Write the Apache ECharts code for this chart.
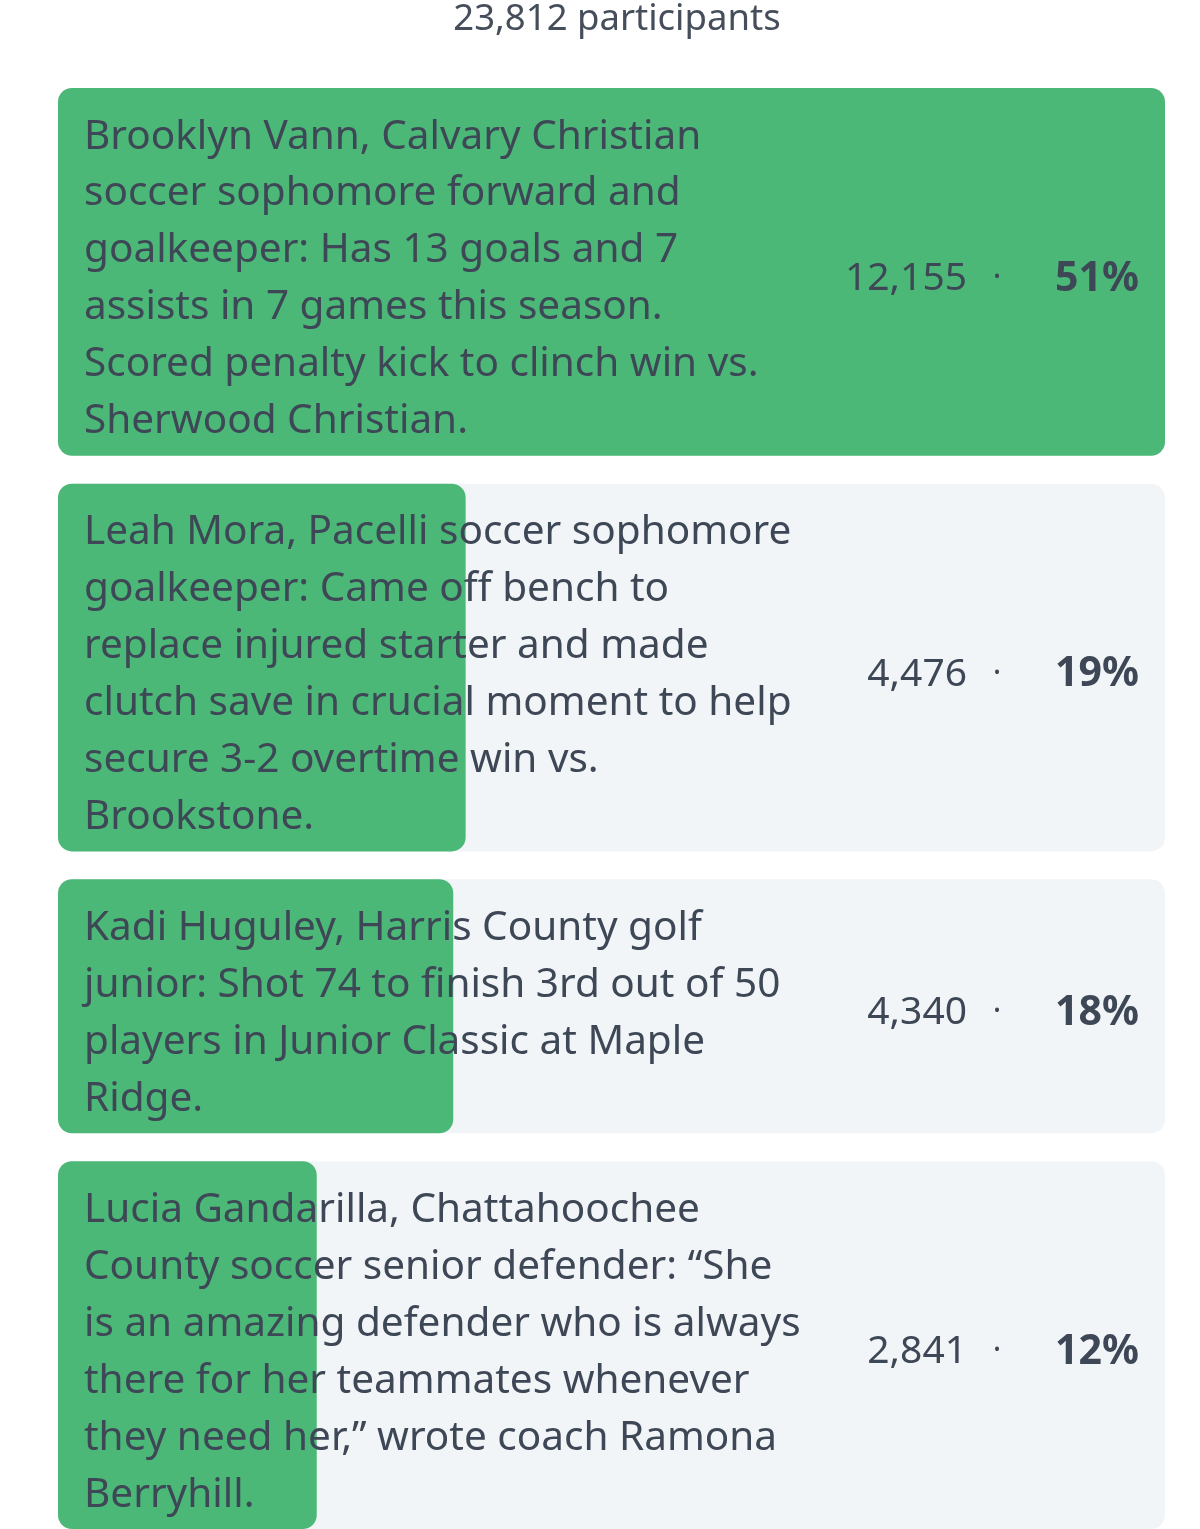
<!DOCTYPE html>
<html><head><meta charset="utf-8">
<script src="https://cdn.jsdelivr.net/npm/echarts@6/dist/echarts.min.js"></script>
<style>html,body{margin:0;padding:0;background:#fff;overflow:hidden}#c{width:1200px;height:1529px}</style>
</head><body><div id="c"></div>
<script>
// Poll options (text as wrapped lines in the reference)
const option1Lines = ["Brooklyn Vann, Calvary Christian", "soccer sophomore forward and", "goalkeeper: Has 13 goals and 7", "assists in 7 games this season.", "Scored penalty kick to clinch win vs.", "Sherwood Christian."];
const option2Lines = ["Leah Mora, Pacelli soccer sophomore", "goalkeeper: Came off bench to", "replace injured starter and made", "clutch save in crucial moment to help", "secure 3-2 overtime win vs.", "Brookstone."];
const option3Lines = ["Kadi Huguley, Harris County golf", "junior: Shot 74 to finish 3rd out of 50", "players in Junior Classic at Maple", "Ridge."];
const option4Lines = ["Lucia Gandarilla, Chattahoochee", "County soccer senior defender: \u201cShe", "is an amazing defender who is always", "there for her teammates whenever", "they need her,\u201d wrote coach Ramona", "Berryhill."];
const optionLines = [option1Lines, option2Lines, option3Lines, option4Lines];
const votes = [12155, 4476, 4340, 2841];

const totalVotes = votes.reduce((a, b) => a + b, 0);
const maxVotes = Math.max(...votes);
const fmt = n => n.toLocaleString('en-US');

// layout in "text line" units
const ROW_PAD = 0.47, ROW_GAP = 0.49, LINE_PX = 56.95;
const rows = [];
let cursor = 0;
optionLines.forEach((lines, i) => {
  const h = lines.length + ROW_PAD;
  rows.push([i, cursor, cursor + h]);
  cursor += h + ROW_GAP;
});
const totalUnits = cursor - ROW_GAP;

const FONT = '"Noto Sans", sans-serif';
const TEXT = '#3e4756';
const chart = echarts.init(document.getElementById('c'), null, {renderer: 'canvas'});
chart.setOption({
  animation: false,
  backgroundColor: '#ffffff',
  title: {
    text: fmt(totalVotes) + ' participants',
    left: 612, top: -4, textAlign: 'center',
    textStyle: {fontFamily: FONT, fontSize: 36.5, fontWeight: 'normal', color: '#454e5a'}
  },
  grid: {left: 58, right: 35, top: 88, height: totalUnits * LINE_PX},
  xAxis: {type: 'value', min: 0, max: maxVotes, show: false},
  yAxis: {type: 'value', min: 0, max: totalUnits, inverse: true, show: false},
  series: [{
    type: 'custom',
    clip: false,
    data: rows,
    renderItem: (params, api) => {
      const i = api.value(0), y0 = api.value(1), y1 = api.value(2);
      const tl = api.coord([0, y0]);
      const br = api.coord([maxVotes, y1]);
      const bar = api.coord([votes[i], y1]);
      const cy = (tl[1] + br[1]) / 2;
      const pct = Math.round(votes[i] / totalVotes * 100) + '%';
      return {
        type: 'group',
        children: [
          {type: 'rect', shape: {x: tl[0], y: tl[1], width: br[0] - tl[0], height: br[1] - tl[1], r: 14}, style: {fill: '#f2f5f7'}},
          {type: 'rect', shape: {x: tl[0], y: tl[1], width: bar[0] - tl[0], height: br[1] - tl[1], r: 14}, style: {fill: '#4cb878'}},
          {type: 'text', style: {x: tl[0] + 26, y: cy + 7.5, text: optionLines[i].join('\n'), fontFamily: FONT, fontSize: 40.5, lineHeight: LINE_PX, fill: TEXT, align: 'left', verticalAlign: 'middle'}},
          {type: 'text', style: {x: br[0] - 198, y: cy + 7, text: fmt(votes[i]), fontFamily: FONT, fontSize: 39, fill: TEXT, align: 'right', verticalAlign: 'middle'}},
          {type: 'text', style: {x: br[0] - 168, y: cy + 6, text: '\u00b7', fontFamily: FONT, fontSize: 32, fill: TEXT, align: 'center', verticalAlign: 'middle'}},
          {type: 'text', style: {x: br[0] - 26, y: cy + 7, text: pct, fontFamily: FONT, fontSize: 41, fontWeight: 'bold', fill: TEXT, align: 'right', verticalAlign: 'middle'}}
        ]
      };
    }
  }]
});
</script></body></html>
